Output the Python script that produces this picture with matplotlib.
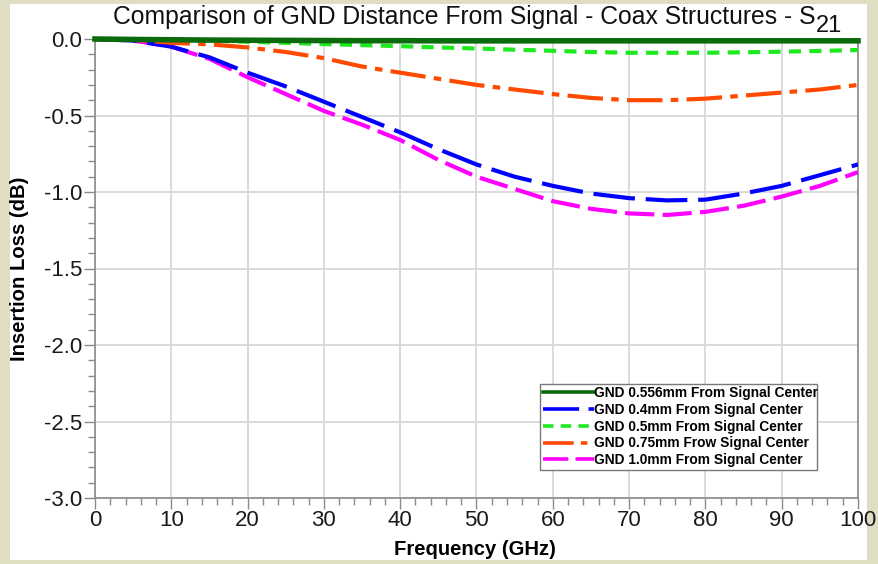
import matplotlib
matplotlib.use("Agg")
import matplotlib.pyplot as plt
from matplotlib.patches import Rectangle
from matplotlib.ticker import MultipleLocator, FormatStrFormatter

plt.rcParams['font.family'] = ['Liberation Sans', 'DejaVu Sans']

freq = [0, 5, 10, 15, 20, 25, 30, 35, 40, 45, 50, 55, 60, 65, 70, 75, 80, 85, 90, 95, 100]
gnd_0556 = [0, -0.003, -0.005, -0.007, -0.008, -0.009, -0.010, -0.011, -0.011, -0.012, -0.012, -0.012,
            -0.012, -0.012, -0.012, -0.012, -0.012, -0.012, -0.012, -0.012, -0.012]
gnd_04 = [0, -0.01, -0.05, -0.12, -0.22, -0.31, -0.41, -0.51, -0.61, -0.72, -0.82, -0.90,
          -0.96, -1.01, -1.04, -1.055, -1.05, -1.01, -0.96, -0.89, -0.82]
gnd_05 = [0, 0, -0.005, -0.01, -0.018, -0.025, -0.033, -0.04, -0.047, -0.055, -0.062, -0.07,
          -0.077, -0.085, -0.09, -0.09, -0.09, -0.087, -0.083, -0.078, -0.072]
gnd_075 = [0, -0.005, -0.025, -0.035, -0.055, -0.085, -0.125, -0.18, -0.22, -0.26, -0.30, -0.33,
           -0.36, -0.385, -0.40, -0.40, -0.39, -0.37, -0.35, -0.33, -0.30]
gnd_10 = [0, -0.01, -0.05, -0.13, -0.25, -0.36, -0.47, -0.56, -0.66, -0.79, -0.90, -0.98,
          -1.06, -1.11, -1.14, -1.15, -1.13, -1.09, -1.03, -0.96, -0.87]

labels = ["GND 0.556mm From Signal Center",
          "GND 0.4mm From Signal Center",
          "GND 0.5mm From Signal Center",
          "GND 0.75mm Frow Signal Center",
          "GND 1.0mm From Signal Center"]

fig = plt.figure(figsize=(8.79, 5.64), dpi=100)
fig.patch.set_facecolor('#dfdec3')
fig.patches.append(Rectangle((10/879, 4/564), 857/879, 556/564, transform=fig.transFigure,
                             facecolor='white', edgecolor='none', zorder=-10))

ax = fig.add_axes([95/879, 1-498/564, 763/879, 459/564])
ax.set_zorder(2)
ax.set_facecolor('white')

ax.plot(freq, gnd_0556, color='#0b6a0b', lw=4.0, label=labels[0], clip_on=False, zorder=6)
l2, = ax.plot(freq, gnd_04, color='#0000ff', lw=3.0, label=labels[1], zorder=4)
l2.set_dashes((10, 2.6))
l3, = ax.plot(freq, gnd_05, color='#1ee81e', lw=3.0, label=labels[2], zorder=5)
l3.set_dashes((2.9, 2.0))
l4, = ax.plot(freq, gnd_075, color='#ff4a00', lw=3.0, label=labels[3], zorder=4)
l4.set_dashes((8.5, 2.0, 1.8, 2.0))
l5, = ax.plot(freq, gnd_10, color='#ff00ff', lw=3.0, label=labels[4], zorder=3)
l5.set_dashes((7, 2.0))

ax.set_xlim(0, 100)
ax.set_ylim(-3.0, 0.0)
ax.xaxis.set_major_locator(MultipleLocator(10))
ax.xaxis.set_minor_locator(MultipleLocator(2))
ax.yaxis.set_major_locator(MultipleLocator(0.5))
ax.yaxis.set_minor_locator(MultipleLocator(0.1))
ax.yaxis.set_major_formatter(FormatStrFormatter('%.1f'))

ax.grid(True, which='major', color='#d8d8d8', lw=1.3, zorder=1)
ax.set_axisbelow(True)
for s in ax.spines.values():
    s.set_color('#8a8a8a')
    s.set_linewidth(1.2)

ax.tick_params(which='major', direction='out', length=8, width=1, color='#8a8a8a',
               labelsize=16, pad=1, labelcolor='#1a1a1a')
ax.tick_params(which='minor', direction='out', length=5, width=1, color='#8a8a8a')

ax.set_xlabel('Frequency (GHz)', fontsize=14.6, fontweight='bold')
ax.set_ylabel('Insertion Loss (dB)', fontsize=14.6, fontweight='bold')
ax.xaxis.set_label_coords(0.498, -0.092)
ax.yaxis.set_label_coords(-0.086, 0.5)

title = fig.text(464/879, 1-17/564, 'Comparison of GND Distance From Signal - Coax Structures - S',
                 ha='center', va='center', fontsize=17.8, color='#111111')
sub = plt.annotate('21', xy=(1, 0), xycoords=title, xytext=(0.5, -5.5), textcoords='offset points',
                   ha='left', va='bottom', fontsize=17, color='#111111', annotation_clip=False)

leg = ax.legend(loc='lower left', bbox_to_anchor=((540-95)/763, (498-470)/459, (817-540)/763, (470-386)/459),
                mode='expand', prop={'weight': 'bold', 'size': 9.9}, handlelength=3.7,
                handletextpad=0.0, labelspacing=0.2, borderpad=0.2, borderaxespad=0,
                fancybox=False, framealpha=1, edgecolor='#7a7a7a')
leg.get_frame().set_linewidth(1.0)
for h in leg.get_lines():
    h.set_linewidth(2.6)

fig.savefig('out.png', dpi=100, facecolor=fig.get_facecolor())
